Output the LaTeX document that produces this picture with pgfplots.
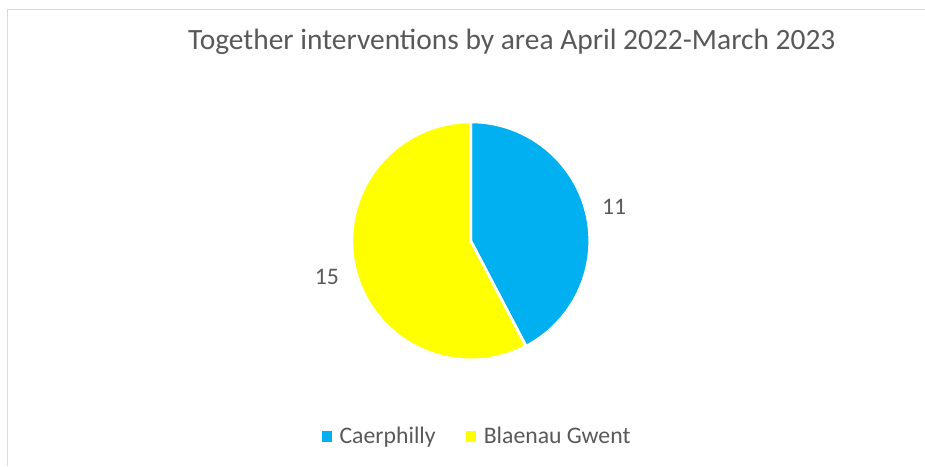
\documentclass[border=0pt]{standalone}
\usepackage{pgfplots}
\usepackage{pgfplotstable}
\pgfplotsset{compat=1.18}
\usepackage{fontspec}
\setmainfont{Carlito}
\definecolor{cblue}{HTML}{00B0F0}
\definecolor{cyellow}{HTML}{FFFF00}
\definecolor{txt}{HTML}{595959}
\definecolor{frame}{HTML}{D9D9D9}

\pgfplotstableread{
area value
Caerphilly 11
{Blaenau Gwent} 15
}\datatable
\pgfplotstablegetelem{0}{value}\of\datatable
\let\va\pgfplotsretval
\pgfplotstablegetelem{1}{value}\of\datatable
\let\vb\pgfplotsretval
\pgfmathsetmacro\angA{90-360*\va/(\va+\vb)}
\pgfmathsetmacro\angB{\angA-360*\vb/(\va+\vb)}

\begin{document}
\begin{tikzpicture}
\begin{axis}[
  at={(0,0)}, anchor=south west,
  x=0.75pt, y=0.75pt,
  xmin=0, xmax=925, ymin=0, ymax=466,
  hide axis, clip=false,
  legend columns=2,
  legend style={draw=none, fill=none, at={(axis cs:476.5,29.5)}, anchor=center,
    font=\fontsize{17.8pt}{20pt}\selectfont, text=txt,
    nodes={inner sep=0pt},
    /tikz/every odd column/.append style={column sep=6pt},
    /tikz/every even column/.append style={column sep=23pt}},
]
\addlegendimage{legend image code/.code={\fill[cblue] (0pt,-3.4pt) rectangle (6.75pt,3.4pt);}}
\addlegendentry{Caerphilly}
\addlegendimage{legend image code/.code={\fill[cyellow] (0pt,-3.4pt) rectangle (6.75pt,3.4pt);}}
\addlegendentry{Blaenau Gwent}
\fill[cblue, draw=white, line width=2pt, line join=round] (axis cs:471,225) -- ++(90:89.25pt) arc[start angle=90, end angle=\angA, radius=89.25pt] -- cycle;
\fill[cyellow, draw=white, line width=2pt, line join=round] (axis cs:471,225) -- ++(\angA:89.25pt) arc[start angle=\angA, end angle=\angB, radius=89.25pt] -- cycle;
\node[anchor=base, text=txt, font=\fontsize{22.1pt}{26pt}\selectfont] at (axis cs:512,416) {Together interventions by area April 2022-March 2023};
\node[anchor=base, text=txt, font=\fontsize{17.8pt}{20pt}\selectfont] at (axis cs:614.5,251) {\va};
\node[anchor=base, text=txt, font=\fontsize{17.8pt}{20pt}\selectfont] at (axis cs:327,181) {\vb};
\end{axis}
\pgfresetboundingbox
\path (0,0) rectangle (693.75pt,349.5pt);
\draw[frame, line width=0.75pt] (6pt,0pt) -- (6pt,342pt) -- (693.75pt,342pt);
\end{tikzpicture}
\end{document}
